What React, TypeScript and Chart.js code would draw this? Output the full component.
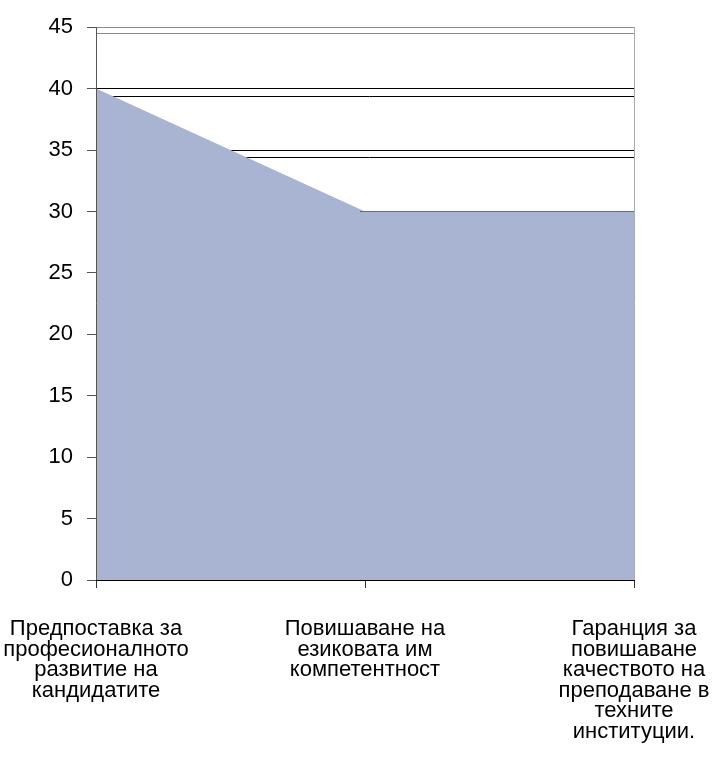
import React, { useEffect, useRef } from "react";
import { Chart, registerables } from "chart.js";

Chart.register(...registerables);

const categories: string[][] = [
  ["Предпоставка за", "професионалното", "развитие на", "кандидатите"],
  ["Повишаване на", "езиковата им", "компетентност"],
  ["Гаранция за", "повишаване", "качеството на", "преподаване в", "техните", "институции."],
];
const values: number[] = [40, 30, 30];
const yMin = 0;
const yMax = 45;
const yStep = 5;

const AREA_COLOR = "rgb(169,180,210)";
const FONT = "'Liberation Sans', Arial, sans-serif";

const depthLines = {
  id: "depthLines",
  beforeDatasetsDraw(chart: any) {
    const { ctx, chartArea, scales } = chart;
    const y = scales.y;
    ctx.save();
    ctx.lineWidth = 1;
    y.ticks.forEach((t: any) => {
      if (t.value <= 0) return;
      const off = t.value === yMax ? 6 : 7;
      const py = Math.round(y.getPixelForValue(t.value) + off) + 0.5;
      ctx.strokeStyle = t.value === yMax ? "#8a8a8a" : "#000";
      ctx.beginPath();
      ctx.moveTo(chartArea.left + (t.value === yMax ? 0 : 9), py);
      ctx.lineTo(chartArea.right, py);
      ctx.stroke();
    });
    ctx.restore();
  },
  afterDatasetsDraw(chart: any) {
    const { ctx, chartArea } = chart;
    const { left, right, top, bottom } = chartArea;
    const pts = chart.getDatasetMeta(0).data;
    ctx.save();
    ctx.lineWidth = 1;
    // top edge of the flat part of the area
    if (pts.length >= 3) {
      ctx.strokeStyle = "#6e6e6e";
      ctx.beginPath();
      const yy = Math.round(pts[1].y) + 0.5;
      ctx.moveTo(pts[1].x - 5, yy);
      ctx.lineTo(pts[2].x, yy);
      ctx.stroke();
    }
    ctx.strokeStyle = "#aaaaaa";
    ctx.beginPath();
    ctx.moveTo(Math.round(right) + 0.5, top);
    ctx.lineTo(Math.round(right) + 0.5, bottom);
    ctx.stroke();
    ctx.strokeStyle = "#555";
    ctx.beginPath();
    ctx.moveTo(Math.round(left) + 0.5, top);
    ctx.lineTo(Math.round(left) + 0.5, bottom);
    ctx.stroke();
    ctx.strokeStyle = "#000";
    ctx.beginPath();
    ctx.moveTo(left, Math.round(bottom) + 0.5);
    ctx.lineTo(right + 1, Math.round(bottom) + 0.5);
    ctx.stroke();
    ctx.restore();
  },
};

export default function App() {
  const ref = useRef<HTMLCanvasElement | null>(null);
  useEffect(() => {
    if (!ref.current) return;
    const chart = new Chart(ref.current, {
      type: "line",
      data: {
        labels: categories,
        datasets: [
          {
            data: values,
            fill: "origin",
            backgroundColor: AREA_COLOR,
            borderWidth: 0,
            borderColor: "rgba(0,0,0,0)",
            pointRadius: 0,
            tension: 0,
          },
        ],
      },
      options: {
        responsive: false,
        animation: false,
        layout: { padding: { left: 0, right: 86, top: 25, bottom: 0 } },
        plugins: { legend: { display: false }, tooltip: { enabled: false } },
        scales: {
          x: {
            type: "category",
            offset: false,
            border: { display: false },
            grid: {
              drawOnChartArea: false,
              drawTicks: true,
              tickLength: 8,
              tickColor: "#333",
            },
            ticks: {
              color: "#000",
              maxRotation: 0,
              autoSkip: false,
              padding: 31,
              font: { family: FONT, size: 22, lineHeight: 0.93 },
            },
            afterFit: (s: any) => {
              s.height = 180;
              s.paddingLeft = 0;
              s.paddingRight = 0;
            },
          },
          y: {
            min: yMin,
            max: yMax,
            border: { display: false },
            grid: {
              color: (c: any) =>
                c.tick && c.tick.value === 0
                  ? "rgba(0,0,0,0)"
                  : c.tick && c.tick.value === yMax
                  ? "#8a8a8a"
                  : "#000",
              tickColor: "#555",
              tickLength: 9,
              lineWidth: 1,
            },
            ticks: {
              stepSize: yStep,
              color: "#000",
              padding: 14,
              font: { family: FONT, size: 22 },
            },
            afterFit: (s: any) => {
              s.width = 96;
            },
          },
        },
      },
      plugins: [depthLines],
    });
    return () => chart.destroy();
  }, []);
  return (
    <div style={{ position: "absolute", left: 0, top: 0, width: 720, height: 760, background: "#fff" }}>
      <canvas ref={ref} width={720} height={760} style={{ display: "block" }} />
    </div>
  );
}
